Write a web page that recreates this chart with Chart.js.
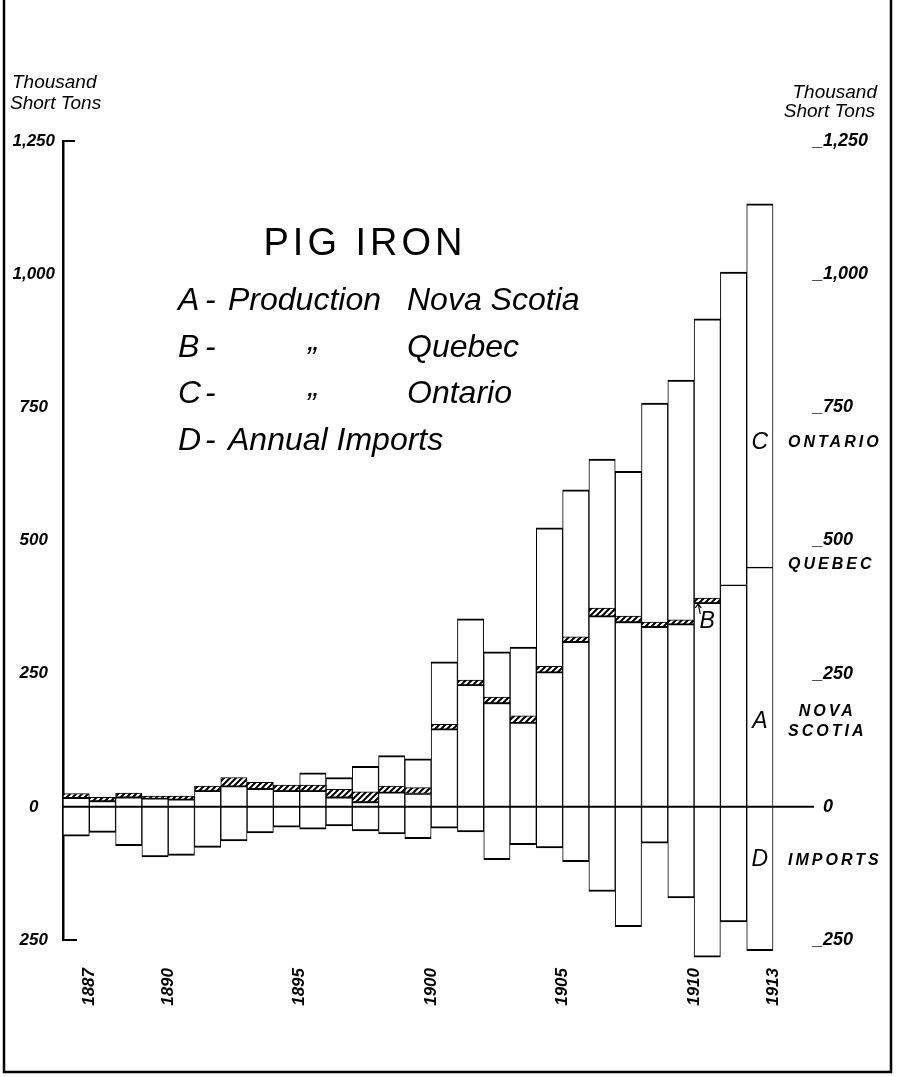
<!DOCTYPE html>
<html>
<head>
<meta charset="utf-8">
<title>Pig Iron</title>
<script src="https://cdn.jsdelivr.net/npm/chart.js@4.4.0/dist/chart.umd.min.js"></script>
<style>
  html, body { margin: 0; padding: 0; background: #fff; }
  #wrap { width: 898px; height: 1077px; position: relative; }
</style>
</head>
<body>
<div id="wrap"><canvas id="pigIron"></canvas></div>
<script>
// Pig iron, thousand short tons
const years = [1887, 1888, 1889, 1890, 1891, 1892, 1893, 1894, 1895, 1896, 1897, 1898, 1899, 1900,
               1901, 1902, 1903, 1904, 1905, 1906, 1907, 1908, 1909, 1910, 1911, 1912, 1913];

// A - production Nova Scotia
const novaScotia = [17, 11, 18, 16, 14, 30, 39, 34, 30, 30, 18, 9, 27, 25,
                    146, 229, 195, 158, 253, 310, 358, 347, 338, 343, 383, 417, 450];
// B - production Quebec (hatched band)
const quebec = [8, 7, 8, 4, 6, 9, 16, 12, 11, 11, 15, 19, 12, 11,
                9, 9, 11, 13, 11, 9, 15, 11, 9, 8, 9, 0, 0];
// C - production Ontario
const ontario = [0, 0, 0, 0, 0, 0, 0, 0, 0, 23, 22, 48, 57, 54,
                 117, 115, 85, 129, 260, 276, 280, 272, 411, 450, 524, 587, 682];
// D - annual imports (drawn below the line)
const imports = [55, 48, 73, 94, 91, 76, 64, 49, 38, 42, 36, 45, 51, 60,
                 40, 47, 99, 71, 77, 103, 159, 225, 68, 171, 282, 216, 270];

const labelledYears = [1887, 1890, 1895, 1900, 1905, 1910, 1913];

const legendRows = [
  ['A', 'Production', 'Nova Scotia'],
  ['B', '\u201D', 'Quebec'],
  ['C', '\u201D', 'Ontario'],
  ['D', 'Annual Imports', '']
];

// names written beside the last bar, and the letters inside the bars
const sideNotes = [
  { lines: ['ONTARIO'], value: 683 },
  { lines: ['QUEBEC'], value: 454 },
  { lines: ['NOVA', 'SCOTIA'], value: 160 },
  { lines: ['IMPORTS'], value: -100 }
];
const barLetters = [
  { letter: 'C', year: 1913, value: 683 },
  { letter: 'A', year: 1913, value: 160 },
  { letter: 'D', year: 1913, value: -100 },
  { letter: 'B', year: 1911, value: 347 }
];

const FONT = "'Liberation Sans', Arial, sans-serif";
Chart.defaults.font.family = FONT;
Chart.defaults.color = '#000';

function hatchPattern() {
  const c = document.createElement('canvas');
  c.width = 6; c.height = 6;
  const g = c.getContext('2d');
  g.fillStyle = '#fff';
  g.fillRect(0, 0, 6, 6);
  g.strokeStyle = '#000';
  g.lineWidth = 2;
  g.beginPath();
  g.moveTo(0, 6); g.lineTo(6, 0);
  g.moveTo(-3, 3); g.lineTo(3, -3);
  g.moveTo(3, 9); g.lineTo(9, 3);
  g.stroke();
  return g.createPattern(c, 'repeat');
}

const fmt = v => Math.abs(v).toLocaleString('en-US');

const barStyle = {
  borderColor: '#000',
  borderSkipped: false,
  barPercentage: 1,
  categoryPercentage: 1,
  stack: 'iron',
  clip: false
};

// everything drawn on the plate that is not a bar or an axis
const plateDecor = {
  id: 'plateDecor',
  afterDatasetsDraw(chart) {
    const { ctx, chartArea: area, scales: { x, y } } = chart;
    ctx.save();
    ctx.strokeStyle = '#000';
    ctx.fillStyle = '#000';
    ctx.lineWidth = 2;

    // zero line, runs out under the right hand scale
    const zeroY = y.getPixelForValue(0);
    ctx.beginPath();
    ctx.moveTo(area.left, zeroY);
    ctx.lineTo(area.right + 41, zeroY);
    ctx.stroke();

    // little caps at the ends of the left axis
    const topY = y.getPixelForValue(y.max);
    const botY = y.getPixelForValue(y.min);
    ctx.beginPath();
    ctx.moveTo(area.left - 1, topY); ctx.lineTo(area.left + 12, topY);
    ctx.moveTo(area.left - 1, botY); ctx.lineTo(area.left + 14, botY);
    ctx.stroke();

    // frame round the plate (top edge is cut off on the original)
    ctx.lineWidth = 2.5;
    ctx.beginPath();
    ctx.moveTo(4, 0); ctx.lineTo(4, chart.height - 5);
    ctx.lineTo(chart.width - 7, chart.height - 5);
    ctx.lineTo(chart.width - 7, 0);
    ctx.stroke();

    // units, both sides
    ctx.font = 'italic 19px ' + FONT;
    ctx.textBaseline = 'alphabetic';
    ctx.textAlign = 'left';
    ctx.fillText('Thousand', area.left - 51, 88);
    ctx.fillText('Short Tons', area.left - 53, 109);
    ctx.textAlign = 'right';
    ctx.fillText('Thousand', area.right + 104, 98);
    ctx.fillText('Short Tons', area.right + 102, 117);

    // title block
    ctx.textAlign = 'center';
    ctx.font = '38px ' + FONT;
    ctx.letterSpacing = '4px';
    ctx.fillText('PIG IRON', area.left + 302, area.top + 114);
    ctx.letterSpacing = '0px';

    ctx.font = 'italic 32px ' + FONT;
    ctx.textAlign = 'left';
    legendRows.forEach((row, i) => {
      const base = area.top + 169 + i * 46.5;
      ctx.fillText(row[0], area.left + 115, base);
      ctx.fillText('-', area.left + 142, base);
      if (row[1] === '\u201D') {
        ctx.fillText(row[1], area.left + 242, base + 12);
      } else {
        ctx.fillText(row[1], area.left + 165, base);
      }
      if (row[2]) ctx.fillText(row[2], area.left + 344, base);
    });

    // letters in the bars
    ctx.font = 'italic 23px ' + FONT;
    ctx.textAlign = 'center';
    ctx.textBaseline = 'middle';
    barLetters.forEach(b => {
      const i = years.indexOf(b.year);
      const bx = x.getPixelForValue(i);
      const by = y.getPixelForValue(b.value);
      ctx.fillText(b.letter, bx, by);
      if (b.letter === 'B') {
        // small arrow up to the Quebec band
        const tip = y.getPixelForValue(novaScotia[i]) + 1;
        ctx.lineWidth = 1.2;
        ctx.beginPath();
        ctx.moveTo(bx - 7, by - 8);
        ctx.lineTo(bx - 9, tip);
        ctx.moveTo(bx - 12, tip + 4); ctx.lineTo(bx - 9, tip); ctx.lineTo(bx - 6, tip + 4);
        ctx.stroke();
      }
    });

    // names beside the last bar
    ctx.font = 'italic bold 16px ' + FONT;
    ctx.letterSpacing = '3px';
    ctx.textAlign = 'center';
    sideNotes.forEach(n => {
      const widest = Math.max(...n.lines.map(t => ctx.measureText(t).width));
      const cx = area.right + 15 + widest / 2;
      const cy = y.getPixelForValue(n.value);
      n.lines.forEach((t, k) => {
        ctx.fillText(t, cx, cy + (k - (n.lines.length - 1) / 2) * 20);
      });
    });
    ctx.letterSpacing = '0px';
    ctx.restore();
  }
};

new Chart(document.getElementById('pigIron'), {
  type: 'bar',
  data: {
    labels: years,
    datasets: [
      { label: 'Nova Scotia', data: novaScotia, backgroundColor: '#fff',
        borderWidth: { top: 1.5, bottom: 0, left: 1, right: 1 }, ...barStyle },
      { label: 'Quebec', data: quebec, backgroundColor: hatchPattern(),
        borderWidth: { top: 1, bottom: 1, left: 1, right: 1 }, ...barStyle },
      { label: 'Ontario', data: ontario, backgroundColor: '#fff',
        borderWidth: { top: 2, bottom: 0, left: 1, right: 1 }, ...barStyle },
      { label: 'Imports', data: imports.map(v => -v), backgroundColor: '#fff',
        borderWidth: { top: 0, bottom: 2, left: 1, right: 1 }, ...barStyle }
    ]
  },
  options: {
    responsive: true,
    maintainAspectRatio: false,
    animation: false,
    layout: { padding: { top: 141, left: 0, right: 0, bottom: 0 } },
    plugins: {
      legend: { display: false },
      title: { display: false },
      tooltip: { enabled: false }
    },
    scales: {
      x: {
        stacked: true,
        grid: { display: false },
        border: { display: false },
        afterFit: s => { s.height = 137; },
        ticks: {
          autoSkip: false,
          minRotation: 90,
          maxRotation: 90,
          padding: 20,
          labelOffset: 13,
          font: { size: 17, style: 'italic', weight: 'bold' },
          callback: function (v, i) {
            return labelledYears.includes(years[i]) ? String(years[i]) : '';
          }
        }
      },
      y: {
        stacked: true,
        min: -250,
        max: 1250,
        position: 'left',
        grid: { display: false },
        border: { display: true, color: '#000', width: 2.5 },
        afterFit: s => { s.width = 63; },
        ticks: {
          stepSize: 250,
          padding: 0,
          crossAlign: 'center',
          font: { size: 17, style: 'italic', weight: 'bold' },
          callback: v => fmt(v)
        }
      },
      y2: {
        min: -250,
        max: 1250,
        position: 'right',
        grid: { display: false },
        border: { display: false },
        afterFit: s => { s.width = 125; },
        ticks: {
          stepSize: 250,
          padding: 32,
          font: { size: 18, style: 'italic', weight: 'bold' },
          callback: v => (v === 0 ? '  0' : '_' + fmt(v))
        }
      }
    }
  },
  plugins: [plateDecor]
});
</script>
</body>
</html>
